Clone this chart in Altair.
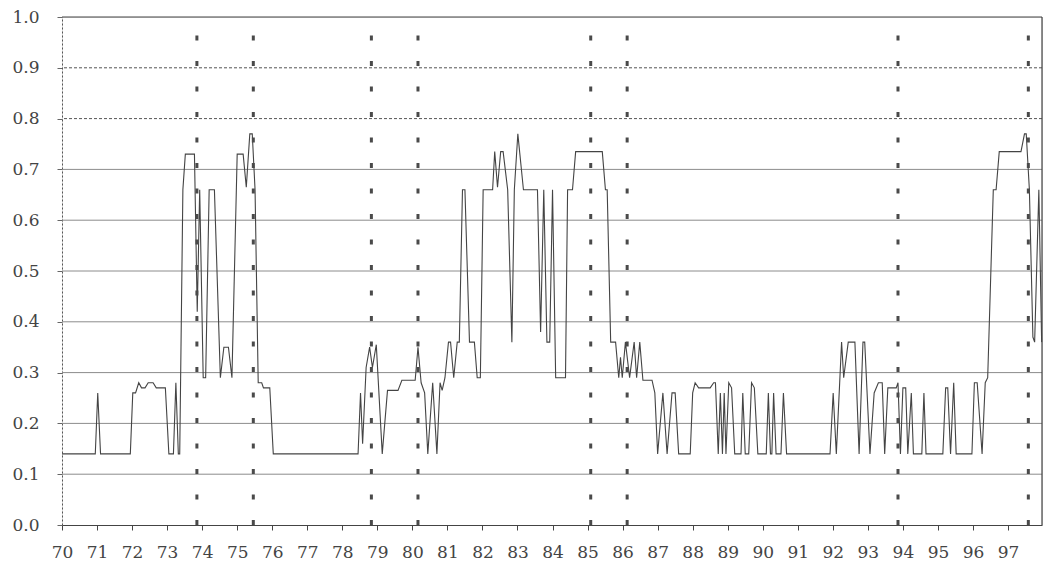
import altair as alt
import pandas as pd

# Series vertices (decimal year, value)
years = [
    70.00, 70.95, 71.02, 71.10, 71.95, 72.02, 72.10, 72.19, 72.27, 72.37, 72.46, 72.60, 72.69, 72.95,
    73.05, 73.18, 73.25, 73.32, 73.36, 73.45, 73.52, 73.78,
    73.86, 73.93, 74.03, 74.10, 74.20, 74.35, 74.52, 74.62, 74.75, 74.85, 75.00, 75.17, 75.26, 75.36,
    75.43, 75.51, 75.60, 75.70, 75.75, 75.93, 76.03,
    78.45, 78.52, 78.58, 78.68, 78.78, 78.86, 78.97, 79.14, 79.29, 79.59, 79.70, 80.08, 80.16, 80.25,
    80.35, 80.44, 80.58, 80.70, 80.79, 80.85, 80.93, 81.03, 81.09, 81.18, 81.28, 81.34, 81.43, 81.50,
    81.63, 81.77, 81.85, 81.94, 82.02,
    82.29, 82.35, 82.43, 82.52, 82.59, 82.72, 82.84, 82.91, 83.01, 83.17, 83.57, 83.66, 83.75, 83.84,
    83.92, 84.00, 84.09, 84.37, 84.43, 84.57, 84.66, 85.42, 85.51, 85.56, 85.66, 85.80, 85.89, 85.94,
    85.99, 86.08, 86.20, 86.33, 86.40, 86.49, 86.58, 86.84, 86.92, 87.00,
    87.15, 87.27, 87.41, 87.50, 87.60, 87.93, 88.00, 88.07, 88.17, 88.50, 88.60, 88.65, 88.73, 88.79,
    88.85, 88.90, 88.95, 89.03, 89.11, 89.20, 89.38, 89.43, 89.50, 89.60, 89.68, 89.76, 89.86, 90.10,
    90.16, 90.22, 90.26, 90.31, 90.38, 90.52, 90.59, 90.68, 91.92, 92.01, 92.10, 92.25, 92.31, 92.44,
    92.63, 92.75, 92.86, 92.91, 93.06, 93.18, 93.30, 93.41, 93.48, 93.57, 93.81, 93.86, 93.93, 94.00,
    94.08, 94.14, 94.24, 94.30, 94.54, 94.60, 94.66, 95.14, 95.22, 95.28, 95.36, 95.45, 95.52, 95.97,
    96.04, 96.12, 96.26, 96.35, 96.42, 96.58, 96.66, 96.75, 97.37, 97.47, 97.52, 97.61, 97.71, 97.76,
    97.88, 97.96,
]
values = [
    0.14, 0.14, 0.26, 0.14, 0.14, 0.26, 0.26, 0.28, 0.27, 0.27, 0.28, 0.28, 0.27, 0.27,
    0.14, 0.14, 0.28, 0.14, 0.14, 0.66, 0.73, 0.73,
    0.42, 0.66, 0.29, 0.29, 0.66, 0.66, 0.29, 0.35, 0.35, 0.29, 0.73, 0.73, 0.665, 0.77,
    0.77, 0.66, 0.28, 0.28, 0.27, 0.27, 0.14,
    0.14, 0.26, 0.16, 0.31, 0.35, 0.31, 0.355, 0.14, 0.265, 0.265, 0.285, 0.285, 0.35, 0.28,
    0.26, 0.14, 0.28, 0.14, 0.28, 0.265, 0.29, 0.36, 0.36, 0.29, 0.36, 0.36, 0.66, 0.66,
    0.36, 0.36, 0.29, 0.29, 0.66,
    0.66, 0.735, 0.665, 0.735, 0.735, 0.66, 0.36, 0.66, 0.77, 0.66, 0.66, 0.38, 0.66, 0.36,
    0.36, 0.66, 0.29, 0.29, 0.66, 0.66, 0.735, 0.735, 0.66, 0.66, 0.36, 0.36, 0.29, 0.33,
    0.29, 0.36, 0.29, 0.36, 0.29, 0.36, 0.285, 0.285, 0.26, 0.14,
    0.26, 0.14, 0.26, 0.26, 0.14, 0.14, 0.26, 0.28, 0.27, 0.27, 0.28, 0.28, 0.14, 0.26,
    0.14, 0.26, 0.14, 0.28, 0.27, 0.14, 0.14, 0.26, 0.14, 0.14, 0.28, 0.27, 0.14, 0.14,
    0.26, 0.14, 0.14, 0.26, 0.14, 0.14, 0.26, 0.14, 0.14, 0.26, 0.14, 0.36, 0.29, 0.36,
    0.36, 0.14, 0.36, 0.36, 0.14, 0.26, 0.28, 0.28, 0.14, 0.27, 0.27, 0.28, 0.14, 0.27,
    0.27, 0.14, 0.26, 0.14, 0.14, 0.26, 0.14, 0.14, 0.27, 0.27, 0.14, 0.28, 0.14, 0.14,
    0.28, 0.28, 0.14, 0.28, 0.29, 0.66, 0.66, 0.735, 0.735, 0.77, 0.77, 0.66, 0.37, 0.36,
    0.66, 0.36,
]

marker_years = [73.85, 75.46, 78.83, 80.16, 85.09, 86.13, 93.86, 97.58]
solid_grid = [0.1, 0.2, 0.3, 0.4, 0.5, 0.6, 0.7]
dashed_grid = [0.8, 0.9]
top_line = [1.0]
x_ticks = list(range(70, 98))
y_ticks = [0.0, 0.1, 0.2, 0.3, 0.4, 0.5, 0.6, 0.7, 0.8, 0.9, 1.0]
x_domain = [70, 97.97]

FONT = "DejaVu Serif"
xscale = alt.Scale(domain=x_domain, nice=False, zero=False)
yscale = alt.Scale(domain=[0, 1], nice=False, zero=False)

xaxis = alt.Axis(values=x_ticks, format="d", title=None, grid=False,
                 tickSize=5, tickColor="#444", domainColor="#444",
                 labelFont=FONT, labelFontSize=17, labelColor="#444",
                 labelPadding=14, labelFlush=False, labelOverlap=False)
yaxis = alt.Axis(values=y_ticks, format=".1f", title=None, grid=False,
                 tickSize=5, tickColor="#666", domainColor="#555",
                 domainDash=[2, 2], labelFont=FONT, labelFontSize=17,
                 labelColor="#444", labelPadding=18, labelFlush=False,
                 labelOverlap=False)

df = pd.DataFrame({"year": years, "value": values})

grid_solid = alt.Chart(pd.DataFrame({"value": solid_grid})).mark_rule(
    color="#8c8c8c", strokeWidth=1).encode(y=alt.Y("value:Q", scale=yscale, axis=yaxis))
grid_dash = alt.Chart(pd.DataFrame({"value": dashed_grid})).mark_rule(
    color="#555", strokeWidth=1, strokeDash=[3, 2]).encode(y=alt.Y("value:Q", scale=yscale, axis=yaxis))
top = alt.Chart(pd.DataFrame({"value": top_line})).mark_rule(
    color="#444", strokeWidth=1.2).encode(y=alt.Y("value:Q", scale=yscale, axis=yaxis))
right = alt.Chart(pd.DataFrame({"year": [x_domain[1]]})).mark_rule(
    color="#444", strokeWidth=1.2).encode(x=alt.X("year:Q", scale=xscale, axis=xaxis))

line = alt.Chart(df).mark_line(color="#444", strokeWidth=1.1).encode(
    x=alt.X("year:Q", scale=xscale, axis=xaxis),
    y=alt.Y("value:Q", scale=yscale, axis=yaxis),
)

markers = alt.Chart(pd.DataFrame({"year": marker_years, "lo": 0.0, "hi": 0.97})).mark_rule(
    color="#4a4a4a", strokeWidth=3, strokeDash=[5, 20.5]).encode(
    x=alt.X("year:Q", scale=xscale, axis=xaxis),
    y=alt.Y("lo:Q", scale=yscale, axis=yaxis),
    y2="hi:Q",
)

chart = alt.layer(grid_solid, grid_dash, top, right, line, markers).properties(
    width=980, height=508,
    autosize="none",
    padding={"left": 54, "top": 9, "right": 1, "bottom": 40},
).configure_view(stroke=None).configure(background="white")

chart.save("out.html", embed_options={"renderer": "svg", "actions": False})
